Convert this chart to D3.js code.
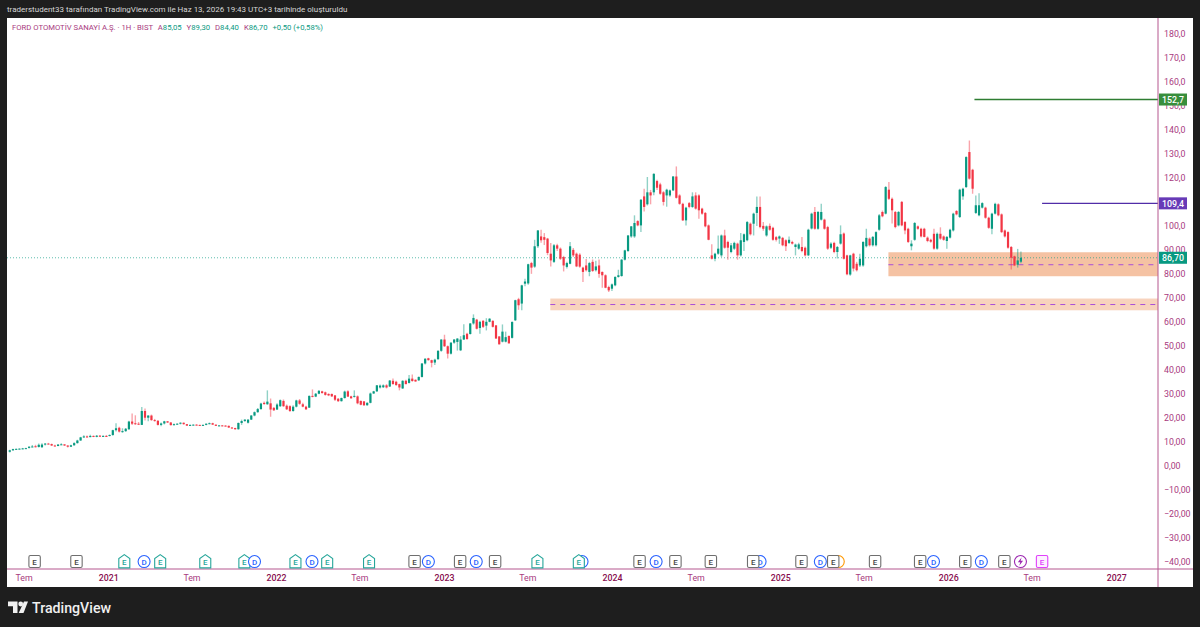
<!DOCTYPE html>
<html>
<head>
<meta charset="utf-8">
<script src="https://cdnjs.cloudflare.com/ajax/libs/d3/7.8.5/d3.min.js"></script>
<style>
  body { margin: 0; background: #1e1e1e; }
  svg { display: block; font-family: Roboto, sans-serif; }
</style>
</head>
<body>
<div id="chart"></div>
<script>
// weekly bars, first bar is the week of 2020-06-01
var firstWeek = "2020-06-01";
var opens = [
5.8,6.4,6.9,7.0,7.0,7.2,7.4,7.9,8.1,7.8,
7.7,8.8,9.2,9.0,8.4,8.2,8.8,8.9,8.4,7.9,
8.5,9.4,10.5,11.8,12.2,11.9,12.4,12.0,12.5,12.2,
12.4,12.4,12.8,14.8,15.8,14.2,14.4,15.2,18.4,17.7,
17.5,17.0,22.8,20.0,20.9,19.0,18.7,17.0,17.6,18.5,
18.0,16.9,17.3,17.5,17.9,17.3,16.7,17.0,17.1,17.0,
16.8,17.0,17.5,17.7,17.1,16.6,16.8,16.7,16.6,15.9,
15.7,15.2,17.8,18.6,17.9,19.2,20.9,22.3,23.6,26.2,
25.6,26.0,24.1,23.4,24.8,27.0,25.0,24.8,22.8,24.6,
27.2,25.6,24.6,24.2,29.1,28.8,30.0,31.0,30.6,29.9,
29.9,29.3,27.9,26.9,28.2,31.0,28.9,28.7,28.9,27.0,
26.8,25.2,26.2,30.1,31.0,32.6,32.7,33.5,33.0,35.4,
35.0,34.0,32.2,35.4,34.5,36.3,35.8,35.6,37.0,42.6,
44.8,44.0,43.0,44.4,47.9,52.6,49.8,46.7,51.3,51.6,
48.1,52.6,55.0,54.9,59.3,60.9,57.4,60.4,58.4,60.0,
60.4,58.5,53.9,51.7,51.7,54.1,53.3,60.6,69.4,67.6,
75.9,76.0,84.5,83.0,91.5,95.6,95.3,94.7,88.4,85.0,
91.9,90.5,87.0,82.9,84.2,90.0,88.4,88.0,82.6,83.5,
80.8,85.0,81.5,83.5,80.8,79.4,74.5,73.8,75.2,78.7,
79.1,85.9,89.5,95.6,95.6,102.0,100.2,112.3,109.0,114.0,
114.0,118.7,117.3,114.0,112.7,112.7,114.8,120.6,112.7,109.2,
102.3,109.5,107.9,112.7,112.7,107.2,105.4,100.2,87.7,86.3,
88.4,87.7,96.0,93.3,89.1,90.5,92.6,87.7,93.3,94.0,
100.9,100.9,105.4,107.9,100.0,96.0,100.0,99.2,95.3,94.7,
95.0,94.0,92.9,93.3,91.2,90.5,91.2,90.9,87.7,98.9,
105.8,98.8,102.6,102.6,99.5,90.9,92.9,89.1,92.6,96.8,
87.7,79.7,88.4,84.2,83.5,83.5,91.5,94.7,91.9,91.9,
98.4,105.8,105.1,115.1,111.3,105.8,100.2,110.0,101.6,98.8,
91.5,94.2,99.8,98.8,98.8,95.1,94.2,96.7,90.5,96.7,
95.6,93.7,95.1,98.1,106.2,103.7,112.3,116.2,130.8,123.4,
105.4,104.4,107.6,107.6,103.4,98.8,105.1,109.0,104.8,98.1,
97.4,91.2,87.3,83.8,85.05];
var highs = [
6.6,7.0,7.2,7.2,7.4,7.5,8.1,8.6,8.7,9.2,
9.3,9.5,9.5,9.2,8.7,9.0,9.3,8.9,8.5,8.7,
9.8,10.8,12.0,12.7,12.6,12.9,12.6,12.8,12.8,12.7,
12.8,13.0,15.0,17.7,16.2,15.6,15.7,18.7,21.8,21.0,
18.2,24.5,23.8,21.0,21.3,19.5,19.0,18.0,18.7,18.6,
18.2,17.6,17.7,18.1,18.0,17.4,17.2,17.2,17.3,17.1,
17.2,17.6,18.0,17.9,17.2,16.9,16.9,16.9,16.7,16.1,
15.8,18.0,19.2,19.4,19.4,21.1,22.6,24.0,26.2,26.8,
31.4,28.0,24.5,26.0,27.6,27.6,25.5,25.2,25.2,27.5,
27.8,26.2,25.0,29.3,31.8,30.3,31.6,31.2,30.9,30.2,
30.1,29.5,28.2,28.4,31.3,31.4,29.2,31.4,29.3,27.2,
27.0,26.4,30.5,31.2,33.6,33.8,33.9,34.0,35.7,36.4,
35.4,34.2,35.6,35.8,37.8,38.0,36.0,37.2,42.8,44.8,
45.0,44.2,44.6,48.1,52.7,54.6,50.1,51.5,52.8,53.2,
54.0,59.0,55.4,59.5,63.1,61.2,60.4,60.8,61.5,61.5,
60.6,58.7,54.0,58.9,55.9,54.3,60.2,69.2,70.0,75.4,
78.0,84.2,85.0,94.2,98.3,98.4,97.0,95.0,92.9,92.4,
92.6,91.0,87.5,85.0,93.3,90.8,88.9,88.6,83.0,86.2,
85.0,86.0,85.5,86.0,81.0,79.8,75.0,76.0,79.0,81.7,
86.2,90.0,96.2,100.0,104.4,102.4,111.2,115.5,120.4,115.0,
122.0,119.2,118.0,114.5,115.5,115.2,120.8,124.8,113.2,109.6,
108.0,110.0,114.0,114.0,113.2,107.6,105.8,100.6,92.3,88.8,
96.0,96.4,98.4,93.8,92.9,93.4,93.0,97.0,96.8,102.0,
101.4,105.5,112.3,112.3,101.6,100.2,101.0,99.6,95.8,96.0,
95.4,94.4,95.6,93.8,92.6,93.0,95.4,91.4,98.8,105.5,
107.9,106.2,109.2,103.0,100.0,93.2,93.4,91.6,100.2,97.2,
88.0,88.0,88.8,85.0,88.4,93.6,98.8,95.2,95.8,97.8,
105.0,106.4,116.6,118.3,111.8,106.2,106.2,110.4,102.0,99.2,
94.0,101.6,100.2,99.2,99.2,95.6,94.6,98.8,97.2,99.4,
96.0,95.8,98.8,105.5,106.6,115.5,115.9,129.0,135.6,123.8,
112.7,113.6,109.9,108.0,103.8,105.5,109.6,109.4,105.2,98.5,
97.8,91.6,87.6,90.4,89.3];
var lows = [
5.5,6.2,6.8,6.8,6.9,7.0,7.2,7.7,7.6,7.6,
7.4,8.4,8.9,8.2,8.0,8.1,8.6,8.2,7.6,7.8,
8.3,9.2,10.3,11.5,11.6,11.8,11.9,11.8,12.0,12.0,
12.1,12.2,12.5,14.2,13.8,13.7,14.1,14.9,17.0,17.0,
17.0,17.0,18.8,18.5,18.7,18.4,16.7,16.4,17.2,17.8,
16.7,16.7,17.1,17.2,17.1,16.5,16.6,16.8,16.9,16.6,
16.7,16.9,17.3,17.0,16.5,16.4,16.4,16.4,15.7,15.5,
15.0,15.0,17.0,18.3,17.6,19.0,20.6,22.1,23.3,25.4,
25.4,20.4,22.8,23.2,24.5,24.5,23.2,22.4,22.5,24.3,
25.4,24.4,23.2,24.0,28.5,28.6,29.8,30.0,29.2,29.0,
28.6,27.0,26.6,26.7,28.0,28.6,27.9,28.4,25.6,25.2,
24.9,25.0,26.0,29.9,30.7,32.2,32.4,32.2,32.8,33.8,
33.3,31.4,32.0,34.0,34.3,35.0,35.0,35.3,36.8,42.2,
43.8,41.0,42.0,44.2,47.5,49.5,44.7,46.4,50.8,48.0,
47.8,52.4,52.5,54.7,58.8,56.8,55.0,57.4,56.4,59.8,
57.6,53.0,50.5,51.4,51.4,50.9,53.0,60.4,65.0,64.8,
74.8,75.5,80.0,82.5,90.8,93.0,92.0,87.8,83.1,84.5,
89.5,85.8,81.0,82.2,84.0,87.0,82.8,82.5,76.6,81.0,
79.0,80.8,81.0,78.4,74.2,74.0,72.4,72.8,74.8,78.4,
78.8,85.6,89.2,95.0,95.0,99.8,97.4,106.0,108.5,109.0,
112.8,115.0,113.0,108.5,108.0,112.2,114.5,111.4,108.8,102.0,
100.2,107.4,107.5,106.8,103.0,104.6,99.4,94.0,86.0,85.3,
88.0,87.0,90.5,85.9,88.6,90.0,85.9,87.2,89.5,93.6,
96.0,96.0,100.0,99.0,98.0,95.5,98.0,93.8,93.5,92.5,
91.5,89.5,92.4,92.2,87.7,90.0,89.0,87.2,87.4,98.5,
98.4,98.4,102.2,98.4,90.0,90.4,88.6,86.4,92.2,86.0,
79.4,79.2,81.0,81.0,82.8,83.0,91.0,91.4,91.4,91.4,
98.0,103.6,104.8,110.8,101.0,99.0,99.8,99.8,96.5,92.9,
89.8,93.8,98.4,95.2,95.2,93.2,93.0,90.0,90.0,94.2,
93.8,90.5,94.7,97.7,104.4,103.3,110.9,115.8,119.3,113.4,
105.0,104.0,107.2,103.0,98.8,96.5,104.7,104.0,97.0,95.2,
90.5,81.8,83.2,82.6,84.4];
var closes = [
6.4,6.9,7.0,7.1,7.2,7.3,7.9,8.0,7.8,8.7,
8.8,9.2,9.0,8.4,8.2,8.8,8.9,8.4,7.9,8.5,
9.4,10.5,11.8,12.2,11.9,12.4,12.0,12.5,12.2,12.4,
12.3,12.8,14.8,15.6,14.2,14.4,15.4,18.4,17.5,17.4,
17.3,22.8,20.0,20.9,19.0,18.7,17.0,17.6,18.5,18.0,
16.9,17.3,17.5,17.9,17.3,16.7,17.0,17.1,17.0,16.8,
17.0,17.5,17.7,17.1,16.6,16.8,16.7,16.6,15.9,15.7,
15.2,17.8,18.6,19.2,19.2,20.9,22.3,23.6,25.9,25.7,
26.7,23.4,23.1,25.5,27.3,24.8,23.5,22.8,24.6,27.2,
25.8,24.6,23.5,29.1,28.8,30.0,31.2,30.3,29.5,29.3,
28.9,27.5,26.9,28.2,30.9,28.8,28.1,29.1,26.0,25.4,
25.2,26.2,30.1,31.0,33.5,33.4,33.5,32.6,35.5,34.0,
33.6,32.6,35.4,34.0,36.3,35.3,35.1,37.0,42.6,44.6,
44.0,42.9,44.2,47.9,52.6,49.8,46.7,51.3,52.6,53.0,
52.6,54.4,52.8,59.3,61.6,57.1,60.0,57.9,60.0,61.3,
57.9,53.0,50.6,55.9,53.6,51.0,59.9,69.0,66.9,75.2,
76.8,84.0,82.6,91.5,98.1,94.0,94.2,88.7,85.6,91.9,
90.5,86.3,83.5,84.5,91.5,87.7,83.1,83.0,80.8,81.5,
84.5,81.2,83.1,80.0,79.4,74.2,73.1,75.6,78.7,79.4,
85.9,89.8,96.0,99.8,101.2,100.2,110.9,107.9,114.0,112.7,
121.7,115.9,113.4,110.0,115.1,114.8,120.6,111.7,109.2,102.3,
107.6,107.9,112.3,107.2,106.5,105.1,99.8,94.2,86.3,88.4,
90.5,96.0,90.9,90.9,91.9,92.9,87.7,94.0,96.5,101.6,
96.5,105.1,107.9,99.5,98.8,99.8,98.4,94.2,94.2,95.6,
91.9,91.5,94.2,92.6,92.2,92.3,89.5,87.7,98.4,105.1,
98.8,105.8,105.8,98.8,90.5,92.6,89.1,91.2,96.5,86.3,
79.8,87.7,82.2,81.5,86.3,93.3,95.0,91.9,95.4,97.4,
104.4,104.0,116.2,111.3,106.5,99.5,105.8,100.2,98.1,93.3,
92.6,101.2,98.8,95.6,95.4,93.7,93.4,90.5,96.7,94.7,
94.2,95.4,98.4,105.1,104.8,115.1,115.5,128.7,119.7,115.5,
108.6,108.6,109.5,103.4,99.2,105.1,109.2,104.4,97.4,95.6,
90.9,86.7,83.5,85.6,86.7];

// 110 sits behind the 109,4 badge in the picture
var priceTicks = [180,170,160,150,140,130,120,100,90,80,70,60,50,40,30,20,10,0,-10,-20,-30,-40];
var timeTicks = ["2020-07-01","2021-01-01","2021-07-01","2022-01-01","2022-07-01","2023-01-01","2023-07-01","2024-01-01","2024-07-01","2025-01-01","2025-07-01","2026-01-01","2026-07-01","2027-01-01"];

// support zones and their mid lines
var zoneStart = ["2023-08-20","2025-08-24"];
var zoneTop = [69.7,89];
var zoneBottom = [64.8,79];
var zoneMid = [67.2,83.8];
var zoneFill = ["#f8d3bd","#f5c2a3"];

// target levels drawn to the right edge
var levelValue = [152.7,109.4];
var levelStart = ["2026-02-27","2026-07-24"];
var levelColor = ["#2e7d32","#512da8"];
var levelBadge = ["#388e3c","#673ab7"];

var lastPrice = 86.70;

// events along the bottom, drawn in this order
var eventDates = ["2020-07-25","2020-10-24","2021-02-05","2021-03-20","2021-04-24","2021-07-31","2021-10-24","2021-11-15","2022-02-12","2022-03-20","2022-04-22","2022-07-22","2022-10-29","2022-11-28","2023-02-05","2023-03-12","2023-04-22","2023-07-23","2023-10-28","2023-10-21","2024-03-01","2024-04-06","2024-05-18","2024-08-03","2024-11-18","2024-11-03","2025-02-16","2025-03-29","2025-05-07","2025-04-26","2025-07-26","2025-11-01","2025-11-30","2026-02-07","2026-03-14","2026-05-03","2026-06-07","2026-07-24"];
var eventKinds = ["E","E","H","D","H","H","H","D","H","D","H","H","E","D","E","D","E","H","D","H","E","D","E","E","D","E","E","D","O","E","E","E","D","E","D","E","S","P"];

var parse = d3.utcParse("%Y-%m-%d");
var commaFmt = function(v, f) { return d3.format(f)(v).replace(".", ",").replace("-", "\u2212"); };
var priceFmt = function(v) { return Math.abs(v) >= 100 ? commaFmt(v, ".1f") : commaFmt(v, ".2f"); };

var width = 1200, height = 627;
var plot = {left: 7, right: 1158, top: 18, bottom: 569};
var upColor = "#089981", downColor = "#f23645";
var axisLine = "#b5568f", axisText = "#a8397e", yearText = "#880e4f";

var svg = d3.select("#chart").append("svg")
  .attr("width", width)
  .attr("height", height);

svg.append("rect").attr("width", width).attr("height", height).attr("fill", "#1e1e1e");
svg.append("rect").attr("x", plot.left).attr("y", plot.top)
  .attr("width", 1193 - plot.left).attr("height", 587 - plot.top).attr("fill", "#fff");

var x = d3.scaleUtc()
  .domain([parse("2020-05-26"), parse("2027-04-02")])
  .range([plot.left, plot.right]);
var y = d3.scaleLinear()
  .domain([-43.1, 186.7])
  .range([plot.bottom, plot.top]);

// zones
var zones = svg.append("g");
zoneStart.forEach(function(d, i) {
  zones.append("rect")
    .attr("x", x(parse(d)))
    .attr("y", y(zoneTop[i]))
    .attr("width", plot.right - x(parse(d)))
    .attr("height", y(zoneBottom[i]) - y(zoneTop[i]))
    .attr("fill", zoneFill[i]);
});

// last price line
svg.append("line")
  .attr("x1", plot.left).attr("x2", plot.right)
  .attr("y1", y(lastPrice)).attr("y2", y(lastPrice))
  .attr("stroke", upColor).attr("stroke-opacity", 0.65).attr("stroke-width", 1).attr("stroke-dasharray", "1 2");

zoneStart.forEach(function(d, i) {
  zones.append("line")
    .attr("x1", x(parse(d))).attr("x2", plot.right)
    .attr("y1", y(zoneMid[i])).attr("y2", y(zoneMid[i]))
    .attr("stroke", "#a94fd8").attr("stroke-width", 1).attr("stroke-dasharray", "5 5");
});

// candles
var start = parse(firstWeek);
var bars = d3.range(closes.length);
var barX = function(i) { return x(d3.utcWeek.offset(start, i)); };
var barColor = function(i) { return closes[i] >= opens[i] ? upColor : downColor; };

svg.append("g").selectAll("line").data(bars).join("line")
  .attr("x1", barX).attr("x2", barX)
  .attr("y1", function(i) { return y(highs[i]); })
  .attr("y2", function(i) { return y(lows[i]); })
  .attr("stroke", barColor)
  .attr("stroke-opacity", 0.45)
  .attr("stroke-width", 1.4);

svg.append("g").selectAll("rect").data(bars).join("rect")
  .attr("x", function(i) { return barX(i) - 1.1; })
  .attr("width", 2.2)
  .attr("y", function(i) { return y(Math.max(opens[i], closes[i])); })
  .attr("height", function(i) { return Math.max(1, Math.abs(y(opens[i]) - y(closes[i]))); })
  .attr("fill", barColor);

// levels
levelValue.forEach(function(v, i) {
  svg.append("line")
    .attr("x1", x(parse(levelStart[i]))).attr("x2", plot.right)
    .attr("y1", y(v)).attr("y2", y(v))
    .attr("stroke", levelColor[i]).attr("stroke-width", 1.3);
});

// axes
var yAxis = svg.append("g")
  .attr("transform", "translate(" + plot.right + ",0)")
  .call(d3.axisRight(y).tickValues(priceTicks).tickSize(0).tickPadding(6).tickFormat(priceFmt));
yAxis.select(".domain").attr("stroke", axisLine).attr("d", "M0," + plot.top + "V587");
yAxis.selectAll("text").attr("fill", axisText).style("font-family", "Roboto").style("font-size", "8.8px");

var xAxis = svg.append("g")
  .attr("transform", "translate(0," + plot.bottom + ")")
  .call(d3.axisBottom(x)
    .tickValues(timeTicks.map(parse))
    .tickSize(0).tickPadding(6)
    .tickFormat(function(d) { return d.getUTCMonth() == 0 ? d.getUTCFullYear() : "Tem"; }));
xAxis.select(".domain").attr("stroke", axisLine).attr("d", "M" + plot.left + ",0H1193");
xAxis.selectAll("text")
  .style("font-family", "Roboto").style("font-size", "8.8px")
  .attr("fill", function(d) { return d.getUTCMonth() == 0 ? yearText : axisText; })
  .attr("font-weight", function(d) { return d.getUTCMonth() == 0 ? 500 : 400; });

// price badges
var badge = function(v, color, label) {
  svg.append("rect")
    .attr("x", plot.right + 1).attr("y", y(v) - 6)
    .attr("width", 28).attr("height", 12)
    .attr("fill", color);
  svg.append("text")
    .attr("x", plot.right + 15).attr("y", y(v) + 3.2)
    .attr("text-anchor", "middle")
    .attr("fill", "#fff")
    .attr("font-size", 8.8)
    .attr("font-weight", 500)
    .text(label);
};
levelValue.forEach(function(v, i) { badge(v, levelBadge[i], commaFmt(v, ".1f")); });
badge(lastPrice, upColor, commaFmt(lastPrice, ".2f"));

// event markers
var eventRow = y(-40);
var eventColor = {E: "#6f6f6f", H: "#26a69a", D: "#2962ff", O: "#ff9800", S: "#9c27b0", P: "#e040fb"};
var markers = svg.append("g").selectAll("g").data(eventDates).join("g")
  .attr("transform", function(d) { return "translate(" + x(parse(d)) + "," + eventRow + ")"; });
markers.each(function(d, i) {
  var g = d3.select(this), k = eventKinds[i], c = eventColor[k];
  if (k == "D" || k == "O" || k == "S") {
    g.append("circle").attr("r", 6).attr("fill", "#fff").attr("stroke", c).attr("stroke-width", 1.1);
  } else if (k == "H") {
    g.append("path").attr("d", "M-5.5,6.3V-3L0,-7L5.5,-3V6.3Z").attr("fill", "#fff").attr("stroke", c).attr("stroke-width", 1.1);
  } else {
    g.append("rect").attr("x", -5.7).attr("y", -6).attr("width", 11.4).attr("height", 12).attr("rx", 1.5)
      .attr("fill", k == "P" ? "#fdf0ff" : "#fff").attr("stroke", c).attr("stroke-width", 1.1);
  }
  if (k == "S") {
    g.append("path").attr("d", "M1.2,-4.2L-2.6,0.7H-0.2L-1.2,4.2L2.6,-0.9H0.2Z").attr("fill", c);
  } else if (k != "O") {
    g.append("text").attr("y", 3).attr("text-anchor", "middle")
      .attr("font-size", 8).attr("font-weight", 500)
      .attr("fill", k == "E" ? "#444" : c)
      .text(k == "D" ? "D" : "E");
  }
});

// header texts
svg.append("text").attr("x", 7).attr("y", 11.5)
  .attr("fill", "#d6d6d6").attr("font-size", 8)
  .text("traderstudent33 tarafından TradingView.com ile Haz 13, 2026 19:43 UTC+3 tarihinde oluşturuldu");

var last = closes.length - 1;
var legend = svg.append("text").attr("x", 12).attr("y", 30).attr("font-size", 7.7);
var titleColor = "#a8397e";
legend.append("tspan").attr("fill", titleColor).text("FORD OTOMOTİV SANAYİ A.Ş. · 1H · BIST");
[["A", opens[last]], ["Y", highs[last]], ["D", lows[last]], ["K", closes[last]]].forEach(function(p, i) {
  legend.append("tspan").attr("fill", titleColor).attr("dx", i == 0 ? 5 : 5).text(p[0]);
  legend.append("tspan").attr("fill", upColor).text(commaFmt(p[1], ".2f"));
});
legend.append("tspan").attr("fill", upColor).attr("dx", 5)
  .text("+" + commaFmt(0.50, ".2f") + " (+" + commaFmt(0.58, ".2f") + "%)");

// logo
var logo = svg.append("g").attr("fill", "#f0f0f0");
logo.append("path").attr("d", "M8,601.5H17.5V613H13V606.3H8Z");
logo.append("circle").attr("cx", 20.7).attr("cy", 604).attr("r", 2.4);
logo.append("path").attr("d", "M24,601.5H28L23.5,613H18.7Z");
svg.append("text").attr("x", 32).attr("y", 612.5)
  .attr("fill", "#f0f0f0").attr("font-size", 14.2).attr("font-weight", 500).text("TradingView");
</script>
</body>
</html>
